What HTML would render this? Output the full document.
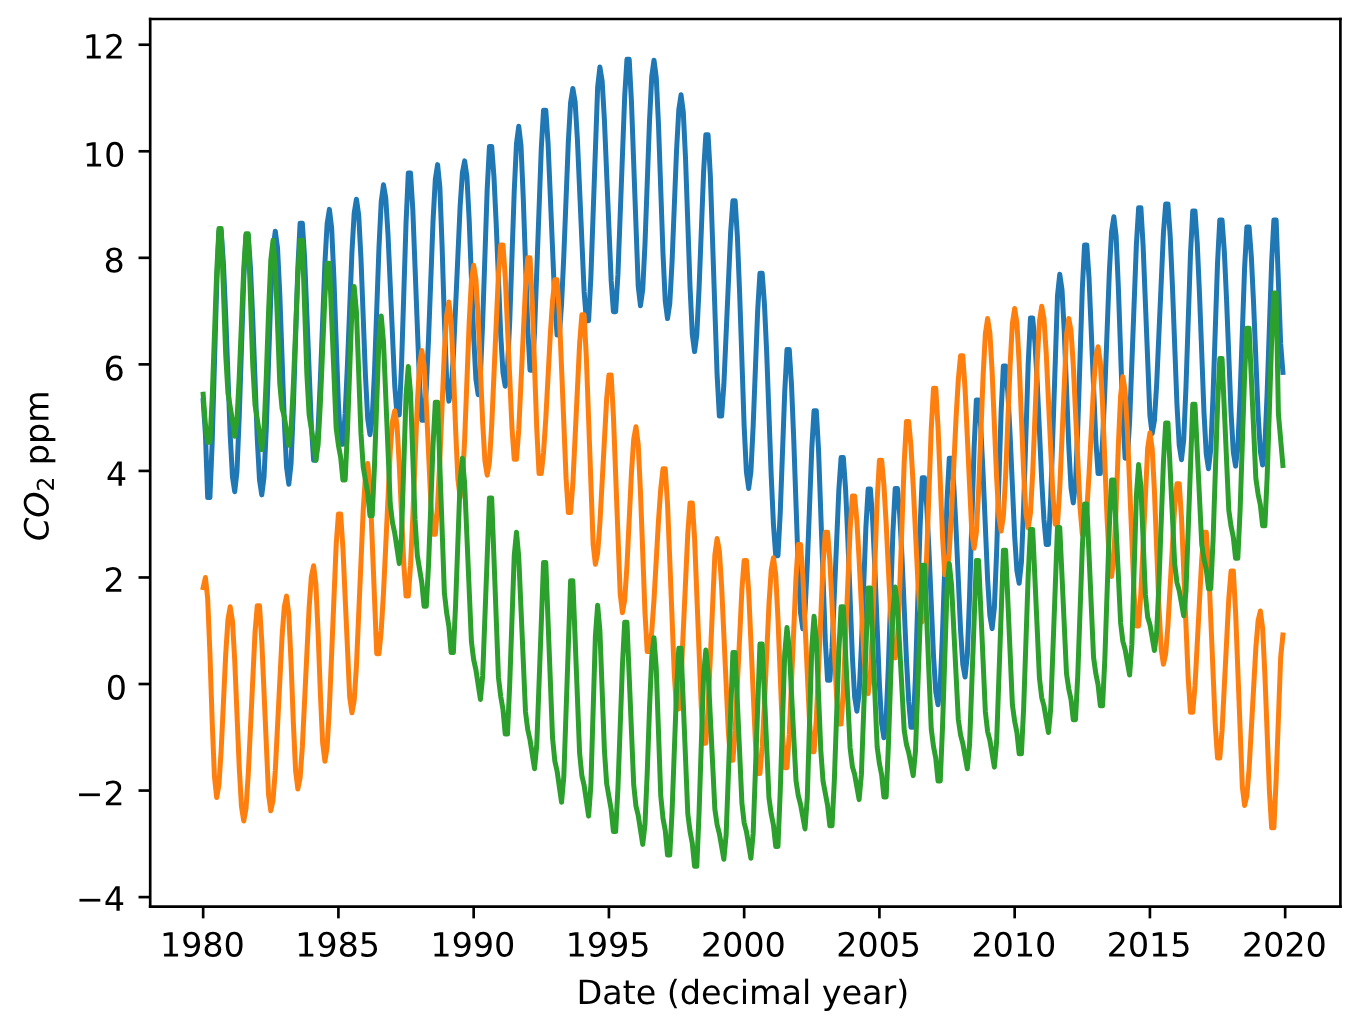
<!DOCTYPE html>
<html><head><meta charset="utf-8"><title>CO2 chart</title><style>html,body{margin:0;padding:0;background:#fff;overflow:hidden;font-family:"Liberation Sans",sans-serif}svg{display:block}</style></head><body>
<svg width="1352" height="1030" viewBox="0 0 405.6 309">
<defs>
<style type="text/css">*{stroke-linejoin: round; stroke-linecap: butt}</style>
</defs>
<g id="figure_1">
<g id="patch_1">
<path d="M 0 309 L 405.6 309 L 405.6 0 L 0 0 z
" style="fill: #ffffff"/>
</g>
<g id="axes_1">
<g id="patch_2">
<path d="M 45.06 272.01 L 402.12 272.01 L 402.12 5.7 L 45.06 5.7 z
" style="fill: #ffffff"/>
</g>
<g id="matplotlib.axis_1">
<g id="xtick_1">
<g id="line2d_1">
<defs>
<path id="m1504cfccaf" d="M 0 0 L 0 3.5 " style="stroke: #000000; stroke-width: 0.8"/>
</defs>
<g>
<use href="#m1504cfccaf" x="60.94917" y="272.01" style="stroke: #000000; stroke-width: 0.8"/>
</g>
</g>
<g id="text_1" transform="translate(-0.240 0.330)">
<!-- 1980 -->
<g transform="translate(48.22417 286.608438) scale(0.1 -0.1)">
<defs>
<path id="DejaVuSans-31" d="M 794 531 L 1825 531 L 1825 4091 L 703 3866 L 703 4441 L 1819 4666 L 2450 4666 L 2450 531 L 3481 531 L 3481 0 L 794 0 L 794 531 z
" transform="scale(0.015625)"/>
<path id="DejaVuSans-39" d="M 703 97 L 703 672 Q 941 559 1184 500 Q 1428 441 1663 441 Q 2288 441 2617 861 Q 2947 1281 2994 2138 Q 2813 1869 2534 1725 Q 2256 1581 1919 1581 Q 1219 1581 811 2004 Q 403 2428 403 3163 Q 403 3881 828 4315 Q 1253 4750 1959 4750 Q 2769 4750 3195 4129 Q 3622 3509 3622 2328 Q 3622 1225 3098 567 Q 2575 -91 1691 -91 Q 1453 -91 1209 -44 Q 966 3 703 97 z
M 1959 2075 Q 2384 2075 2632 2365 Q 2881 2656 2881 3163 Q 2881 3666 2632 3958 Q 2384 4250 1959 4250 Q 1534 4250 1286 3958 Q 1038 3666 1038 3163 Q 1038 2656 1286 2365 Q 1534 2075 1959 2075 z
" transform="scale(0.015625)"/>
<path id="DejaVuSans-38" d="M 2034 2216 Q 1584 2216 1326 1975 Q 1069 1734 1069 1313 Q 1069 891 1326 650 Q 1584 409 2034 409 Q 2484 409 2743 651 Q 3003 894 3003 1313 Q 3003 1734 2745 1975 Q 2488 2216 2034 2216 z
M 1403 2484 Q 997 2584 770 2862 Q 544 3141 544 3541 Q 544 4100 942 4425 Q 1341 4750 2034 4750 Q 2731 4750 3128 4425 Q 3525 4100 3525 3541 Q 3525 3141 3298 2862 Q 3072 2584 2669 2484 Q 3125 2378 3379 2068 Q 3634 1759 3634 1313 Q 3634 634 3220 271 Q 2806 -91 2034 -91 Q 1263 -91 848 271 Q 434 634 434 1313 Q 434 1759 690 2068 Q 947 2378 1403 2484 z
M 1172 3481 Q 1172 3119 1398 2916 Q 1625 2713 2034 2713 Q 2441 2713 2670 2916 Q 2900 3119 2900 3481 Q 2900 3844 2670 4047 Q 2441 4250 2034 4250 Q 1625 4250 1398 4047 Q 1172 3844 1172 3481 z
" transform="scale(0.015625)"/>
<path id="DejaVuSans-30" d="M 2034 4250 Q 1547 4250 1301 3770 Q 1056 3291 1056 2328 Q 1056 1369 1301 889 Q 1547 409 2034 409 Q 2525 409 2770 889 Q 3016 1369 3016 2328 Q 3016 3291 2770 3770 Q 2525 4250 2034 4250 z
M 2034 4750 Q 2819 4750 3233 4129 Q 3647 3509 3647 2328 Q 3647 1150 3233 529 Q 2819 -91 2034 -91 Q 1250 -91 836 529 Q 422 1150 422 2328 Q 422 3509 836 4129 Q 1250 4750 2034 4750 z
" transform="scale(0.015625)"/>
</defs>
<use href="#DejaVuSans-31"/>
<use href="#DejaVuSans-39" transform="translate(63.623047 0)"/>
<use href="#DejaVuSans-38" transform="translate(127.246094 0)"/>
<use href="#DejaVuSans-30" transform="translate(190.869141 0)"/>
</g>
</g>
</g>
<g id="xtick_2">
<g id="line2d_2">
<g>
<use href="#m1504cfccaf" x="101.52417" y="272.01" style="stroke: #000000; stroke-width: 0.8"/>
</g>
</g>
<g id="text_2" transform="translate(-0.240 0.330)">
<!-- 1985 -->
<g transform="translate(88.79917 286.608438) scale(0.1 -0.1)">
<defs>
<path id="DejaVuSans-35" d="M 691 4666 L 3169 4666 L 3169 4134 L 1269 4134 L 1269 2991 Q 1406 3038 1543 3061 Q 1681 3084 1819 3084 Q 2600 3084 3056 2656 Q 3513 2228 3513 1497 Q 3513 744 3044 326 Q 2575 -91 1722 -91 Q 1428 -91 1123 -41 Q 819 9 494 109 L 494 744 Q 775 591 1075 516 Q 1375 441 1709 441 Q 2250 441 2565 725 Q 2881 1009 2881 1497 Q 2881 1984 2565 2268 Q 2250 2553 1709 2553 Q 1456 2553 1204 2497 Q 953 2441 691 2322 L 691 4666 z
" transform="scale(0.015625)"/>
</defs>
<use href="#DejaVuSans-31"/>
<use href="#DejaVuSans-39" transform="translate(63.623047 0)"/>
<use href="#DejaVuSans-38" transform="translate(127.246094 0)"/>
<use href="#DejaVuSans-35" transform="translate(190.869141 0)"/>
</g>
</g>
</g>
<g id="xtick_3">
<g id="line2d_3">
<g>
<use href="#m1504cfccaf" x="142.09917" y="272.01" style="stroke: #000000; stroke-width: 0.8"/>
</g>
</g>
<g id="text_3" transform="translate(-0.240 0.330)">
<!-- 1990 -->
<g transform="translate(129.37417 286.608438) scale(0.1 -0.1)">
<use href="#DejaVuSans-31"/>
<use href="#DejaVuSans-39" transform="translate(63.623047 0)"/>
<use href="#DejaVuSans-39" transform="translate(127.246094 0)"/>
<use href="#DejaVuSans-30" transform="translate(190.869141 0)"/>
</g>
</g>
</g>
<g id="xtick_4">
<g id="line2d_4">
<g>
<use href="#m1504cfccaf" x="182.67417" y="272.01" style="stroke: #000000; stroke-width: 0.8"/>
</g>
</g>
<g id="text_4" transform="translate(-0.240 0.330)">
<!-- 1995 -->
<g transform="translate(169.94917 286.608438) scale(0.1 -0.1)">
<use href="#DejaVuSans-31"/>
<use href="#DejaVuSans-39" transform="translate(63.623047 0)"/>
<use href="#DejaVuSans-39" transform="translate(127.246094 0)"/>
<use href="#DejaVuSans-35" transform="translate(190.869141 0)"/>
</g>
</g>
</g>
<g id="xtick_5">
<g id="line2d_5">
<g>
<use href="#m1504cfccaf" x="223.24917" y="272.01" style="stroke: #000000; stroke-width: 0.8"/>
</g>
</g>
<g id="text_5" transform="translate(-0.240 0.330)">
<!-- 2000 -->
<g transform="translate(210.52417 286.608438) scale(0.1 -0.1)">
<defs>
<path id="DejaVuSans-32" d="M 1228 531 L 3431 531 L 3431 0 L 469 0 L 469 531 Q 828 903 1448 1529 Q 2069 2156 2228 2338 Q 2531 2678 2651 2914 Q 2772 3150 2772 3378 Q 2772 3750 2511 3984 Q 2250 4219 1831 4219 Q 1534 4219 1204 4116 Q 875 4013 500 3803 L 500 4441 Q 881 4594 1212 4672 Q 1544 4750 1819 4750 Q 2544 4750 2975 4387 Q 3406 4025 3406 3419 Q 3406 3131 3298 2873 Q 3191 2616 2906 2266 Q 2828 2175 2409 1742 Q 1991 1309 1228 531 z
" transform="scale(0.015625)"/>
</defs>
<use href="#DejaVuSans-32"/>
<use href="#DejaVuSans-30" transform="translate(63.623047 0)"/>
<use href="#DejaVuSans-30" transform="translate(127.246094 0)"/>
<use href="#DejaVuSans-30" transform="translate(190.869141 0)"/>
</g>
</g>
</g>
<g id="xtick_6">
<g id="line2d_6">
<g>
<use href="#m1504cfccaf" x="263.82417" y="272.01" style="stroke: #000000; stroke-width: 0.8"/>
</g>
</g>
<g id="text_6" transform="translate(-0.240 0.330)">
<!-- 2005 -->
<g transform="translate(251.09917 286.608438) scale(0.1 -0.1)">
<use href="#DejaVuSans-32"/>
<use href="#DejaVuSans-30" transform="translate(63.623047 0)"/>
<use href="#DejaVuSans-30" transform="translate(127.246094 0)"/>
<use href="#DejaVuSans-35" transform="translate(190.869141 0)"/>
</g>
</g>
</g>
<g id="xtick_7">
<g id="line2d_7">
<g>
<use href="#m1504cfccaf" x="304.39917" y="272.01" style="stroke: #000000; stroke-width: 0.8"/>
</g>
</g>
<g id="text_7" transform="translate(-0.240 0.330)">
<!-- 2010 -->
<g transform="translate(291.67417 286.608438) scale(0.1 -0.1)">
<use href="#DejaVuSans-32"/>
<use href="#DejaVuSans-30" transform="translate(63.623047 0)"/>
<use href="#DejaVuSans-31" transform="translate(127.246094 0)"/>
<use href="#DejaVuSans-30" transform="translate(190.869141 0)"/>
</g>
</g>
</g>
<g id="xtick_8">
<g id="line2d_8">
<g>
<use href="#m1504cfccaf" x="344.97417" y="272.01" style="stroke: #000000; stroke-width: 0.8"/>
</g>
</g>
<g id="text_8" transform="translate(-0.240 0.330)">
<!-- 2015 -->
<g transform="translate(332.24917 286.608438) scale(0.1 -0.1)">
<use href="#DejaVuSans-32"/>
<use href="#DejaVuSans-30" transform="translate(63.623047 0)"/>
<use href="#DejaVuSans-31" transform="translate(127.246094 0)"/>
<use href="#DejaVuSans-35" transform="translate(190.869141 0)"/>
</g>
</g>
</g>
<g id="xtick_9">
<g id="line2d_9">
<g>
<use href="#m1504cfccaf" x="385.54917" y="272.01" style="stroke: #000000; stroke-width: 0.8"/>
</g>
</g>
<g id="text_9" transform="translate(-0.240 0.330)">
<!-- 2020 -->
<g transform="translate(372.82417 286.608438) scale(0.1 -0.1)">
<use href="#DejaVuSans-32"/>
<use href="#DejaVuSans-30" transform="translate(63.623047 0)"/>
<use href="#DejaVuSans-32" transform="translate(127.246094 0)"/>
<use href="#DejaVuSans-30" transform="translate(190.869141 0)"/>
</g>
</g>
</g>
<g id="text_10" transform="translate(-0.720 0.900)">
<!-- Date (decimal year) -->
<g transform="translate(173.691563 300.286563) scale(0.1 -0.1)">
<defs>
<path id="DejaVuSans-44" d="M 1259 4147 L 1259 519 L 2022 519 Q 2988 519 3436 956 Q 3884 1394 3884 2338 Q 3884 3275 3436 3711 Q 2988 4147 2022 4147 L 1259 4147 z
M 628 4666 L 1925 4666 Q 3281 4666 3915 4102 Q 4550 3538 4550 2338 Q 4550 1131 3912 565 Q 3275 0 1925 0 L 628 0 L 628 4666 z
" transform="scale(0.015625)"/>
<path id="DejaVuSans-61" d="M 2194 1759 Q 1497 1759 1228 1600 Q 959 1441 959 1056 Q 959 750 1161 570 Q 1363 391 1709 391 Q 2188 391 2477 730 Q 2766 1069 2766 1631 L 2766 1759 L 2194 1759 z
M 3341 1997 L 3341 0 L 2766 0 L 2766 531 Q 2569 213 2275 61 Q 1981 -91 1556 -91 Q 1019 -91 701 211 Q 384 513 384 1019 Q 384 1609 779 1909 Q 1175 2209 1959 2209 L 2766 2209 L 2766 2266 Q 2766 2663 2505 2880 Q 2244 3097 1772 3097 Q 1472 3097 1187 3025 Q 903 2953 641 2809 L 641 3341 Q 956 3463 1253 3523 Q 1550 3584 1831 3584 Q 2591 3584 2966 3190 Q 3341 2797 3341 1997 z
" transform="scale(0.015625)"/>
<path id="DejaVuSans-74" d="M 1172 4494 L 1172 3500 L 2356 3500 L 2356 3053 L 1172 3053 L 1172 1153 Q 1172 725 1289 603 Q 1406 481 1766 481 L 2356 481 L 2356 0 L 1766 0 Q 1100 0 847 248 Q 594 497 594 1153 L 594 3053 L 172 3053 L 172 3500 L 594 3500 L 594 4494 L 1172 4494 z
" transform="scale(0.015625)"/>
<path id="DejaVuSans-65" d="M 3597 1894 L 3597 1613 L 953 1613 Q 991 1019 1311 708 Q 1631 397 2203 397 Q 2534 397 2845 478 Q 3156 559 3463 722 L 3463 178 Q 3153 47 2828 -22 Q 2503 -91 2169 -91 Q 1331 -91 842 396 Q 353 884 353 1716 Q 353 2575 817 3079 Q 1281 3584 2069 3584 Q 2775 3584 3186 3129 Q 3597 2675 3597 1894 z
M 3022 2063 Q 3016 2534 2758 2815 Q 2500 3097 2075 3097 Q 1594 3097 1305 2825 Q 1016 2553 972 2059 L 3022 2063 z
" transform="scale(0.015625)"/>
<path id="DejaVuSans-20" transform="scale(0.015625)"/>
<path id="DejaVuSans-28" d="M 1984 4856 Q 1566 4138 1362 3434 Q 1159 2731 1159 2009 Q 1159 1288 1364 580 Q 1569 -128 1984 -844 L 1484 -844 Q 1016 -109 783 600 Q 550 1309 550 2009 Q 550 2706 781 3412 Q 1013 4119 1484 4856 L 1984 4856 z
" transform="scale(0.015625)"/>
<path id="DejaVuSans-64" d="M 2906 2969 L 2906 4863 L 3481 4863 L 3481 0 L 2906 0 L 2906 525 Q 2725 213 2448 61 Q 2172 -91 1784 -91 Q 1150 -91 751 415 Q 353 922 353 1747 Q 353 2572 751 3078 Q 1150 3584 1784 3584 Q 2172 3584 2448 3432 Q 2725 3281 2906 2969 z
M 947 1747 Q 947 1113 1208 752 Q 1469 391 1925 391 Q 2381 391 2643 752 Q 2906 1113 2906 1747 Q 2906 2381 2643 2742 Q 2381 3103 1925 3103 Q 1469 3103 1208 2742 Q 947 2381 947 1747 z
" transform="scale(0.015625)"/>
<path id="DejaVuSans-63" d="M 3122 3366 L 3122 2828 Q 2878 2963 2633 3030 Q 2388 3097 2138 3097 Q 1578 3097 1268 2742 Q 959 2388 959 1747 Q 959 1106 1268 751 Q 1578 397 2138 397 Q 2388 397 2633 464 Q 2878 531 3122 666 L 3122 134 Q 2881 22 2623 -34 Q 2366 -91 2075 -91 Q 1284 -91 818 406 Q 353 903 353 1747 Q 353 2603 823 3093 Q 1294 3584 2113 3584 Q 2378 3584 2631 3529 Q 2884 3475 3122 3366 z
" transform="scale(0.015625)"/>
<path id="DejaVuSans-69" d="M 603 3500 L 1178 3500 L 1178 0 L 603 0 L 603 3500 z
M 603 4863 L 1178 4863 L 1178 4134 L 603 4134 L 603 4863 z
" transform="scale(0.015625)"/>
<path id="DejaVuSans-6d" d="M 3328 2828 Q 3544 3216 3844 3400 Q 4144 3584 4550 3584 Q 5097 3584 5394 3201 Q 5691 2819 5691 2113 L 5691 0 L 5113 0 L 5113 2094 Q 5113 2597 4934 2840 Q 4756 3084 4391 3084 Q 3944 3084 3684 2787 Q 3425 2491 3425 1978 L 3425 0 L 2847 0 L 2847 2094 Q 2847 2600 2669 2842 Q 2491 3084 2119 3084 Q 1678 3084 1418 2786 Q 1159 2488 1159 1978 L 1159 0 L 581 0 L 581 3500 L 1159 3500 L 1159 2956 Q 1356 3278 1631 3431 Q 1906 3584 2284 3584 Q 2666 3584 2933 3390 Q 3200 3197 3328 2828 z
" transform="scale(0.015625)"/>
<path id="DejaVuSans-6c" d="M 603 4863 L 1178 4863 L 1178 0 L 603 0 L 603 4863 z
" transform="scale(0.015625)"/>
<path id="DejaVuSans-79" d="M 2059 -325 Q 1816 -950 1584 -1140 Q 1353 -1331 966 -1331 L 506 -1331 L 506 -850 L 844 -850 Q 1081 -850 1212 -737 Q 1344 -625 1503 -206 L 1606 56 L 191 3500 L 800 3500 L 1894 763 L 2988 3500 L 3597 3500 L 2059 -325 z
" transform="scale(0.015625)"/>
<path id="DejaVuSans-72" d="M 2631 2963 Q 2534 3019 2420 3045 Q 2306 3072 2169 3072 Q 1681 3072 1420 2755 Q 1159 2438 1159 1844 L 1159 0 L 581 0 L 581 3500 L 1159 3500 L 1159 2956 Q 1341 3275 1631 3429 Q 1922 3584 2338 3584 Q 2397 3584 2469 3576 Q 2541 3569 2628 3553 L 2631 2963 z
" transform="scale(0.015625)"/>
<path id="DejaVuSans-29" d="M 513 4856 L 1013 4856 Q 1481 4119 1714 3412 Q 1947 2706 1947 2009 Q 1947 1309 1714 600 Q 1481 -109 1013 -844 L 513 -844 Q 928 -128 1133 580 Q 1338 1288 1338 2009 Q 1338 2731 1133 3434 Q 928 4138 513 4856 z
" transform="scale(0.015625)"/>
</defs>
<use href="#DejaVuSans-44"/>
<use href="#DejaVuSans-61" transform="translate(77.001953 0)"/>
<use href="#DejaVuSans-74" transform="translate(138.28125 0)"/>
<use href="#DejaVuSans-65" transform="translate(177.490234 0)"/>
<use href="#DejaVuSans-20" transform="translate(239.013672 0)"/>
<use href="#DejaVuSans-28" transform="translate(270.800781 0)"/>
<use href="#DejaVuSans-64" transform="translate(309.814453 0)"/>
<use href="#DejaVuSans-65" transform="translate(373.291016 0)"/>
<use href="#DejaVuSans-63" transform="translate(434.814453 0)"/>
<use href="#DejaVuSans-69" transform="translate(489.794922 0)"/>
<use href="#DejaVuSans-6d" transform="translate(517.578125 0)"/>
<use href="#DejaVuSans-61" transform="translate(614.990234 0)"/>
<use href="#DejaVuSans-6c" transform="translate(676.269531 0)"/>
<use href="#DejaVuSans-20" transform="translate(704.052734 0)"/>
<use href="#DejaVuSans-79" transform="translate(735.839844 0)"/>
<use href="#DejaVuSans-65" transform="translate(795.019531 0)"/>
<use href="#DejaVuSans-61" transform="translate(856.542969 0)"/>
<use href="#DejaVuSans-72" transform="translate(917.822266 0)"/>
<use href="#DejaVuSans-29" transform="translate(958.935547 0)"/>
</g>
</g>
</g>
<g id="matplotlib.axis_2">
<g id="ytick_1">
<g id="line2d_10">
<defs>
<path id="m5d545ce8f8" d="M 0 0 L -3.5 0 " style="stroke: #000000; stroke-width: 0.8"/>
</defs>
<g>
<use href="#m5d545ce8f8" x="45.06" y="269.133219" style="stroke: #000000; stroke-width: 0.8"/>
</g>
</g>
<g id="text_11" transform="translate(-0.540 0.270)">
<!-- −4 -->
<g transform="translate(23.317813 272.932438) scale(0.1 -0.1)">
<defs>
<path id="DejaVuSans-2212" d="M 678 2272 L 4684 2272 L 4684 1741 L 678 1741 L 678 2272 z
" transform="scale(0.015625)"/>
<path id="DejaVuSans-34" d="M 2419 4116 L 825 1625 L 2419 1625 L 2419 4116 z
M 2253 4666 L 3047 4666 L 3047 1625 L 3713 1625 L 3713 1100 L 3047 1100 L 3047 0 L 2419 0 L 2419 1100 L 313 1100 L 313 1709 L 2253 4666 z
" transform="scale(0.015625)"/>
</defs>
<use href="#DejaVuSans-2212"/>
<use href="#DejaVuSans-34" transform="translate(83.789062 0)"/>
</g>
</g>
</g>
<g id="ytick_2">
<g id="line2d_11">
<g>
<use href="#m5d545ce8f8" x="45.06" y="237.168987" style="stroke: #000000; stroke-width: 0.8"/>
</g>
</g>
<g id="text_12" transform="translate(-0.660 0.600)">
<!-- −2 -->
<g transform="translate(23.317813 240.968206) scale(0.1 -0.1)">
<use href="#DejaVuSans-2212"/>
<use href="#DejaVuSans-32" transform="translate(83.789062 0)"/>
</g>
</g>
</g>
<g id="ytick_3">
<g id="line2d_12">
<g>
<use href="#m5d545ce8f8" x="45.06" y="205.204755" style="stroke: #000000; stroke-width: 0.8"/>
</g>
</g>
<g id="text_13" transform="translate(0.030 0.840)">
<!-- 0 -->
<g transform="translate(31.6975 209.003974) scale(0.1 -0.1)">
<use href="#DejaVuSans-30"/>
</g>
</g>
</g>
<g id="ytick_4">
<g id="line2d_13">
<g>
<use href="#m5d545ce8f8" x="45.06" y="173.240523" style="stroke: #000000; stroke-width: 0.8"/>
</g>
</g>
<g id="text_14" transform="translate(-0.660 0.510)">
<!-- 2 -->
<g transform="translate(31.6975 177.039741) scale(0.1 -0.1)">
<use href="#DejaVuSans-32"/>
</g>
</g>
</g>
<g id="ytick_5">
<g id="line2d_14">
<g>
<use href="#m5d545ce8f8" x="45.06" y="141.276291" style="stroke: #000000; stroke-width: 0.8"/>
</g>
</g>
<g id="text_15" transform="translate(0.090 0.660)">
<!-- 4 -->
<g transform="translate(31.6975 145.075509) scale(0.1 -0.1)">
<use href="#DejaVuSans-34"/>
</g>
</g>
</g>
<g id="ytick_6">
<g id="line2d_15">
<g>
<use href="#m5d545ce8f8" x="45.06" y="109.312058" style="stroke: #000000; stroke-width: 0.8"/>
</g>
</g>
<g id="text_16" transform="translate(-0.630 0.960)">
<!-- 6 -->
<g transform="translate(31.6975 113.111277) scale(0.1 -0.1)">
<defs>
<path id="DejaVuSans-36" d="M 2113 2584 Q 1688 2584 1439 2293 Q 1191 2003 1191 1497 Q 1191 994 1439 701 Q 1688 409 2113 409 Q 2538 409 2786 701 Q 3034 994 3034 1497 Q 3034 2003 2786 2293 Q 2538 2584 2113 2584 z
M 3366 4563 L 3366 3988 Q 3128 4100 2886 4159 Q 2644 4219 2406 4219 Q 1781 4219 1451 3797 Q 1122 3375 1075 2522 Q 1259 2794 1537 2939 Q 1816 3084 2150 3084 Q 2853 3084 3261 2657 Q 3669 2231 3669 1497 Q 3669 778 3244 343 Q 2819 -91 2113 -91 Q 1303 -91 875 529 Q 447 1150 447 2328 Q 447 3434 972 4092 Q 1497 4750 2381 4750 Q 2619 4750 2861 4703 Q 3103 4656 3366 4563 z
" transform="scale(0.015625)"/>
</defs>
<use href="#DejaVuSans-36"/>
</g>
</g>
</g>
<g id="ytick_7">
<g id="line2d_16">
<g>
<use href="#m5d545ce8f8" x="45.06" y="77.347826" style="stroke: #000000; stroke-width: 0.8"/>
</g>
</g>
<g id="text_17" transform="translate(-0.630 0.510)">
<!-- 8 -->
<g transform="translate(31.6975 81.147045) scale(0.1 -0.1)">
<use href="#DejaVuSans-38"/>
</g>
</g>
</g>
<g id="ytick_8">
<g id="line2d_17">
<g>
<use href="#m5d545ce8f8" x="45.06" y="45.383594" style="stroke: #000000; stroke-width: 0.8"/>
</g>
</g>
<g id="text_18" transform="translate(-0.450 0.780)">
<!-- 10 -->
<g transform="translate(25.335 49.182813) scale(0.1 -0.1)">
<use href="#DejaVuSans-31"/>
<use href="#DejaVuSans-30" transform="translate(63.623047 0)"/>
</g>
</g>
</g>
<g id="ytick_9">
<g id="line2d_18">
<g>
<use href="#m5d545ce8f8" x="45.06" y="13.419362" style="stroke: #000000; stroke-width: 0.8"/>
</g>
</g>
<g id="text_19" transform="translate(-0.540 0.360)">
<!-- 12 -->
<g transform="translate(25.335 17.218581) scale(0.1 -0.1)">
<use href="#DejaVuSans-31"/>
<use href="#DejaVuSans-32" transform="translate(63.623047 0)"/>
</g>
</g>
</g>
<g id="text_20" transform="translate(-2.610 0.855)">
<!-- $CO_2$ ppm -->
<g transform="translate(17.217813 161.455) rotate(-90) scale(0.1 -0.1)">
<defs>
<path id="DejaVuSans-Oblique-43" d="M 4447 4306 L 4319 3641 Q 4019 3944 3683 4091 Q 3347 4238 2956 4238 Q 2422 4238 2017 3981 Q 1613 3725 1319 3200 Q 1131 2863 1032 2486 Q 934 2109 934 1728 Q 934 1091 1264 756 Q 1594 422 2222 422 Q 2656 422 3056 561 Q 3456 700 3834 978 L 3688 231 Q 3316 72 2936 -9 Q 2556 -91 2175 -91 Q 1278 -91 773 396 Q 269 884 269 1753 Q 269 2309 461 2846 Q 653 3384 1013 3828 Q 1394 4300 1883 4525 Q 2372 4750 3022 4750 Q 3422 4750 3780 4639 Q 4138 4528 4447 4306 z
" transform="scale(0.015625)"/>
<path id="DejaVuSans-Oblique-4f" d="M 2919 4238 Q 2400 4238 2003 3986 Q 1606 3734 1313 3219 Q 1125 2891 1026 2522 Q 928 2153 928 1778 Q 928 1128 1239 775 Q 1550 422 2119 422 Q 2631 422 3032 676 Q 3434 931 3719 1434 Q 3909 1772 4009 2142 Q 4109 2513 4109 2881 Q 4109 3528 3796 3883 Q 3484 4238 2919 4238 z
M 2100 -91 Q 1241 -91 748 418 Q 256 928 256 1813 Q 256 2319 448 2847 Q 641 3375 978 3788 Q 1375 4272 1862 4511 Q 2350 4750 2938 4750 Q 3794 4750 4287 4245 Q 4781 3741 4781 2869 Q 4781 2331 4593 1812 Q 4406 1294 4056 872 Q 3656 384 3173 146 Q 2691 -91 2100 -91 z
" transform="scale(0.015625)"/>
<path id="DejaVuSans-70" d="M 1159 525 L 1159 -1331 L 581 -1331 L 581 3500 L 1159 3500 L 1159 2969 Q 1341 3281 1617 3432 Q 1894 3584 2278 3584 Q 2916 3584 3314 3078 Q 3713 2572 3713 1747 Q 3713 922 3314 415 Q 2916 -91 2278 -91 Q 1894 -91 1617 61 Q 1341 213 1159 525 z
M 3116 1747 Q 3116 2381 2855 2742 Q 2594 3103 2138 3103 Q 1681 3103 1420 2742 Q 1159 2381 1159 1747 Q 1159 1113 1420 752 Q 1681 391 2138 391 Q 2594 391 2855 752 Q 3116 1113 3116 1747 z
" transform="scale(0.015625)"/>
</defs>
<use href="#DejaVuSans-Oblique-43" transform="translate(0 0.78125)"/>
<use href="#DejaVuSans-Oblique-4f" transform="translate(69.824219 0.78125)"/>
<use href="#DejaVuSans-32" transform="translate(148.535156 -15.625) scale(0.7)"/>
<use href="#DejaVuSans-20" transform="translate(195.805664 0.78125)"/>
<use href="#DejaVuSans-70" transform="translate(227.592773 0.78125)"/>
<use href="#DejaVuSans-70" transform="translate(291.069336 0.78125)"/>
<use href="#DejaVuSans-6d" transform="translate(354.545898 0.78125)"/>
</g>
</g>
</g>
<g id="line2d_19">
<path d="M 60.94917 120.179897 L 61.62542 130.229365 L 62.30167 149.267349 L 62.97792 149.267349 L 63.65417 132.797189 L 65.00667 85.826928 L 65.68292 69.356768 L 66.35917 69.356768 L 67.03542 79.184031 L 67.71167 94.576404 L 69.06417 130.630896 L 69.74042 143.033364 L 70.41667 147.509316 L 71.09292 141.40758 L 71.76917 125.039629 L 73.12167 83.901452 L 73.79792 70.635338 L 74.47417 70.635338 L 75.15042 80.422407 L 75.82667 95.751826 L 77.17917 131.658855 L 77.85542 144.010598 L 78.53167 148.468243 L 79.20792 143.168779 L 79.88417 128.690374 L 81.23667 89.134637 L 81.91292 74.656232 L 82.58917 69.356768 L 83.26542 74.442112 L 83.94167 88.335531 L 85.29417 126.293057 L 85.97042 140.186475 L 86.64667 145.27182 L 87.32292 139.055914 L 87.99917 122.381702 L 89.35167 80.473788 L 90.02792 66.959451 L 90.70417 66.959451 L 91.38042 77.374795 L 93.40917 127.664524 L 94.08542 138.079867 L 94.76167 138.079867 L 95.43792 128.614344 L 96.11417 113.788561 L 97.46667 79.061229 L 98.14292 67.115293 L 98.81917 62.804101 L 99.49542 68.398416 L 100.17167 83.405206 L 101.52417 121.122329 L 102.20042 133.285233 L 102.87667 133.285233 L 103.55292 124.040773 L 104.22917 109.561239 L 105.58167 75.644949 L 106.25792 63.978005 L 106.93417 59.767499 L 107.61042 64.499545 L 108.28667 77.427737 L 109.63917 112.748213 L 110.31542 125.676405 L 110.99167 130.408452 L 111.66792 125.387343 L 112.34417 111.669421 L 113.69667 74.191358 L 114.37292 60.473436 L 115.04917 55.452327 L 115.72542 59.406542 L 116.40167 70.363324 L 118.43042 115.813315 L 119.10667 124.495069 L 119.78292 124.495069 L 120.45917 109.540164 L 121.81167 66.891167 L 122.48792 51.936262 L 123.16417 51.936262 L 123.84042 62.796306 L 125.86917 115.233236 L 126.54542 126.09328 L 127.22167 126.09328 L 127.89792 116.446887 L 128.57417 101.337809 L 129.92667 65.946898 L 130.60292 53.772695 L 131.27917 49.379123 L 131.95542 56.155257 L 132.63167 73.895406 L 133.30792 95.823436 L 133.98417 113.563585 L 134.66042 120.339719 L 135.33667 116.770669 L 136.01292 106.770415 L 138.04167 61.829679 L 138.71792 51.829425 L 139.39417 48.260375 L 140.07042 52.960304 L 140.74667 65.800747 L 142.09917 100.881492 L 142.77542 113.721936 L 143.45167 118.421865 L 144.12792 112.510411 L 144.80417 96.652896 L 146.15667 56.797614 L 146.83292 43.945204 L 147.50917 43.945204 L 148.18542 52.988697 L 148.86167 67.153458 L 150.21417 100.332438 L 150.89042 111.745752 L 151.56667 115.864726 L 152.24292 110.640204 L 152.91917 96.366544 L 154.27167 57.370181 L 154.94792 43.096522 L 155.62417 37.872 L 156.30042 43.681969 L 156.97667 59.267252 L 158.32917 98.438323 L 159.00542 111.070091 L 159.68167 111.070091 L 160.35792 99.648321 L 162.38667 44.499135 L 163.06292 33.077365 L 163.73917 33.077365 L 164.41542 42.954388 L 166.44417 90.644872 L 167.12042 100.521895 L 167.79667 100.521895 L 168.47292 91.217145 L 169.14917 76.64318 L 170.50167 42.505696 L 171.17792 30.762664 L 171.85417 26.524697 L 172.53042 30.515525 L 173.20667 41.573759 L 175.23542 87.444583 L 175.91167 96.206723 L 176.58792 96.206723 L 177.26417 83.07851 L 179.29292 26.170159 L 179.96917 20.131851 L 180.64542 24.333204 L 181.32167 35.974785 L 183.35042 84.2654 L 184.02667 93.489764 L 184.70292 93.489764 L 185.37917 82.405029 L 187.40792 28.883196 L 188.08417 17.798462 L 188.76042 17.798462 L 189.43667 30.557099 L 191.46542 85.863408 L 192.14167 91.731731 L 192.81792 86.79627 L 193.49417 73.312342 L 194.84667 36.473564 L 195.52292 22.989636 L 196.19917 18.054176 L 196.87542 23.24658 L 197.55167 37.432491 L 198.90417 76.189123 L 199.58042 90.375035 L 200.25667 95.567439 L 200.93292 91.070924 L 201.60917 78.786217 L 202.96167 45.223773 L 203.63792 32.939066 L 204.31417 28.442551 L 204.99042 33.602837 L 205.66667 47.701001 L 207.01917 86.217901 L 207.69542 100.316065 L 208.37167 105.476351 L 209.04792 100.313343 L 209.72417 86.463539 L 211.07667 51.654312 L 211.75292 40.429138 L 212.42917 40.429138 L 213.10542 52.787119 L 215.13417 112.45673 L 215.81042 124.814711 L 216.48667 124.814711 L 217.16292 115.358983 L 219.19167 69.70269 L 219.86792 60.246962 L 220.54417 60.246962 L 221.22042 71.099154 L 221.89667 88.096867 L 223.24917 127.911643 L 223.92542 141.60762 L 224.60167 146.550389 L 225.27792 141.425438 L 225.95417 127.677721 L 227.30667 93.125073 L 227.98292 81.98264 L 228.65917 81.98264 L 229.33542 91.222646 L 230.01167 105.95914 L 231.36417 142.711355 L 232.04042 157.44785 L 232.71667 166.687855 L 233.39292 166.687855 L 234.06917 153.939951 L 235.42167 117.58497 L 236.09792 104.837066 L 236.77417 104.837066 L 237.45042 115.367712 L 238.12667 131.861789 L 239.47917 170.496867 L 240.15542 183.787038 L 240.83167 188.583354 L 241.50792 183.394976 L 242.18417 169.477113 L 243.53667 134.496834 L 244.21292 123.216499 L 244.88917 123.216499 L 245.56542 135.059565 L 247.59417 192.242942 L 248.27042 204.086007 L 248.94667 204.086007 L 249.62292 194.302605 L 251.65167 147.064163 L 252.32792 137.280762 L 253.00417 137.280762 L 253.68042 146.846768 L 254.35667 161.829937 L 255.70917 196.925924 L 256.38542 208.998675 L 257.06167 213.355634 L 257.73792 208.065771 L 258.41417 193.875677 L 259.76667 158.211186 L 260.44292 146.71021 L 261.11917 146.71021 L 261.79542 156.095347 L 262.47167 170.79522 L 263.82417 205.227628 L 264.50042 217.072112 L 265.17667 221.346692 L 265.85292 215.409868 L 266.52917 199.484294 L 267.88167 159.457959 L 268.55792 146.550389 L 269.23417 146.550389 L 269.91042 154.360809 L 270.58667 166.817317 L 271.93917 197.883341 L 272.61542 210.339849 L 273.29167 218.150269 L 273.96792 218.150269 L 274.64417 202.734199 L 275.99667 158.770035 L 276.67292 143.353966 L 277.34917 143.353966 L 278.02542 151.915139 L 278.70167 165.324446 L 280.05417 196.73388 L 280.73042 207.538485 L 281.40667 211.43778 L 282.08292 205.564383 L 282.75917 189.808955 L 284.11167 150.210252 L 284.78792 137.440583 L 285.46417 137.440583 L 286.14042 145.700307 L 286.81667 158.637455 L 288.16917 188.940923 L 288.84542 199.365084 L 289.52167 203.12708 L 290.19792 196.530608 L 290.87417 178.835526 L 292.22667 134.361821 L 292.90292 120.020076 L 293.57917 120.020076 L 294.25542 128.64154 L 294.93167 142.145278 L 296.28417 173.775906 L 296.96042 184.656599 L 297.63667 188.583354 L 298.31292 182.329392 L 298.98917 165.553093 L 300.34167 123.3886 L 301.01792 109.791522 L 301.69417 109.791522 L 302.37042 117.990956 L 303.04667 130.833672 L 304.39917 160.915947 L 305.07542 171.264019 L 305.75167 174.998555 L 306.42792 168.681165 L 307.10417 151.734722 L 308.45667 109.142596 L 309.13292 95.407617 L 309.80917 95.407617 L 310.48542 102.817056 L 311.16167 114.634056 L 312.51417 144.105172 L 313.19042 155.922172 L 313.86667 163.331611 L 314.54292 163.331611 L 315.21917 149.348409 L 317.24792 88.733842 L 317.92417 82.302282 L 318.60042 86.895151 L 319.27667 99.443102 L 320.62917 133.724741 L 321.30542 146.272691 L 321.98167 150.86556 L 322.65792 144.725767 L 323.33417 128.25573 L 324.68667 86.860974 L 325.36292 73.512118 L 326.03917 73.512118 L 326.71542 83.552978 L 328.74417 132.034537 L 329.42042 142.075396 L 330.09667 142.075396 L 330.77292 132.38881 L 331.44917 117.216778 L 332.80167 81.678404 L 333.47792 69.453476 L 334.15417 65.041597 L 334.83042 70.788139 L 335.50667 86.203277 L 336.85917 124.946716 L 337.53542 137.440583 L 338.21167 137.440583 L 338.88792 126.440107 L 340.91667 73.325113 L 341.59292 62.324637 L 342.26917 62.324637 L 342.94542 74.018676 L 344.97417 124.710148 L 345.65042 130.088809 L 346.32667 126.143748 L 347.00292 115.212329 L 349.03167 69.867546 L 349.70792 61.205889 L 350.38417 61.205889 L 351.06042 70.852282 L 351.73667 85.96136 L 353.08917 121.352272 L 353.76542 133.526474 L 354.44167 137.920046 L 355.11792 131.995907 L 355.79417 116.104363 L 357.14667 76.163554 L 357.82292 63.283564 L 358.49917 63.283564 L 359.17542 73.010344 L 359.85167 88.245331 L 361.20417 123.931167 L 361.88042 136.206821 L 362.55667 140.637006 L 363.23292 134.712867 L 363.90917 118.821323 L 365.26167 78.880514 L 365.93792 66.000524 L 366.61417 66.000524 L 367.29042 75.285177 L 367.96667 89.827665 L 369.31917 123.891417 L 369.99542 135.609087 L 370.67167 139.8379 L 371.34792 134.142101 L 372.02417 118.863078 L 373.37667 80.461744 L 374.05292 68.078199 L 374.72917 68.078199 L 375.40542 77.061402 L 376.08167 91.131731 L 377.43417 124.089518 L 378.11042 135.426744 L 378.78667 139.518258 L 379.46292 133.682918 L 380.13917 118.029576 L 381.49167 78.687452 L 382.16792 66.000524 L 382.84417 66.000524 L 384.19667 103.104451 L 384.87292 111.709376 L 384.87292 111.709376 " clip-path="url(#pfecbb01156)" style="fill: none; stroke: #1f77b4; stroke-width: 1.5; stroke-linecap: square"/>
</g>
<g id="line2d_20">
<path d="M 60.94917 176.277125 L 61.62542 173.240523 L 62.30167 179.543548 L 62.97792 196.045083 L 63.65417 216.442102 L 64.33042 232.943637 L 65.00667 239.246662 L 65.68292 235.413918 L 66.35917 224.942668 L 67.71167 196.33468 L 68.38792 185.86343 L 69.06417 182.030687 L 69.74042 186.334494 L 70.41667 198.092713 L 71.76917 230.216766 L 72.44542 241.974986 L 73.12167 246.278793 L 73.79792 242.58087 L 74.47417 232.33425 L 76.50292 189.830092 L 77.17917 181.711044 L 77.85542 181.711044 L 78.53167 192.329452 L 80.56042 238.358265 L 81.23667 243.242191 L 81.91292 240.052996 L 82.58917 231.11707 L 84.61792 190.959384 L 85.29417 182.023458 L 85.97042 178.834263 L 86.64667 184.358949 L 87.32292 198.822764 L 87.99917 216.701023 L 88.67542 231.164838 L 89.35167 236.689523 L 90.02792 233.37371 L 90.70417 224.083008 L 92.73292 182.330972 L 93.40917 173.04027 L 94.08542 169.724457 L 94.76167 175.325451 L 95.43792 189.989042 L 96.11417 208.114238 L 96.79042 222.77783 L 97.46667 228.378823 L 98.14292 224.131703 L 98.81917 212.363308 L 100.84792 163.546651 L 101.52417 154.221805 L 102.20042 154.221805 L 102.87667 164.509249 L 104.90542 209.103398 L 105.58167 213.835098 L 106.25792 210.131516 L 106.93417 199.754312 L 108.96292 153.11958 L 109.63917 142.742376 L 110.31542 139.038794 L 110.99167 145.713097 L 113.02042 196.094949 L 113.69667 196.094949 L 114.37292 189.135676 L 115.04917 177.875336 L 117.07792 135.273124 L 117.75417 126.366836 L 118.43042 123.216499 L 119.10667 127.631061 L 119.78292 139.473154 L 121.13542 169.236326 L 121.81167 178.834263 L 122.48792 178.834263 L 123.16417 169.569707 L 123.84042 155.058696 L 125.19292 121.068675 L 125.86917 109.376368 L 126.54542 105.156708 L 127.22167 109.533213 L 127.89792 121.27322 L 129.25042 150.779812 L 129.92667 160.295009 L 130.60292 160.295009 L 131.27917 151.532868 L 131.95542 137.808789 L 133.30792 105.662044 L 133.98417 94.603811 L 134.66042 90.612983 L 135.33667 96.213976 L 136.01292 110.877568 L 136.68917 129.002764 L 137.36542 143.666355 L 138.04167 149.267349 L 138.71792 144.599538 L 139.39417 131.846842 L 140.74667 97.005829 L 141.42292 84.253133 L 142.09917 79.585323 L 142.77542 83.803482 L 143.45167 95.327707 L 144.80417 126.812476 L 145.48042 138.336701 L 146.15667 142.55486 L 146.83292 138.600645 L 147.50917 127.643863 L 149.53792 82.193872 L 150.21417 73.512118 L 150.89042 73.512118 L 151.56667 82.921036 L 153.59542 128.351308 L 154.27167 137.760225 L 154.94792 137.760225 L 155.62417 128.913034 L 157.65292 86.195017 L 158.32917 77.347826 L 159.00542 77.347826 L 159.68167 90.688656 L 161.03417 128.734567 L 161.71042 142.075396 L 162.38667 142.075396 L 163.06292 135.72943 L 163.73917 125.608517 L 165.09167 100.367373 L 165.76792 90.24646 L 166.44417 83.900494 L 167.12042 83.900494 L 167.79667 94.128596 L 169.82542 143.514239 L 170.50167 153.742341 L 171.17792 153.742341 L 171.85417 145.058987 L 173.88292 103.132045 L 174.55917 94.448691 L 175.23542 94.448691 L 175.91167 107.356261 L 177.94042 163.308169 L 178.61667 169.244994 L 179.29292 165.995581 L 179.96917 156.991744 L 181.99792 119.642793 L 182.67417 112.508482 L 183.35042 112.508482 L 184.02667 124.809286 L 186.05542 178.130976 L 186.73167 183.788719 L 187.40792 180.05233 L 188.08417 169.844323 L 189.43667 141.955531 L 190.11292 131.747524 L 190.78917 128.011134 L 191.46542 133.364425 L 192.14167 147.724664 L 193.49417 183.816786 L 194.17042 195.455664 L 194.84667 195.455664 L 195.52292 189.475811 L 196.19917 179.938797 L 197.55167 156.153873 L 198.22792 146.616859 L 198.90417 140.637006 L 199.58042 140.637006 L 200.25667 151.192781 L 202.28542 202.160574 L 202.96167 212.716349 L 203.63792 212.716349 L 204.31417 203.658511 L 206.34292 159.923399 L 207.01917 150.86556 L 207.69542 150.86556 L 208.37167 161.421336 L 210.40042 212.389128 L 211.07667 222.944904 L 211.75292 222.944904 L 212.42917 212.354077 L 214.45792 166.444819 L 215.13417 161.573578 L 215.81042 165.381341 L 216.48667 175.932316 L 218.51542 219.698974 L 219.19167 228.059181 L 219.86792 228.059181 L 220.54417 219.282206 L 222.57292 176.903221 L 223.24917 168.126246 L 223.92542 168.126246 L 224.60167 177.488352 L 226.63042 222.692603 L 227.30667 232.05471 L 227.98292 232.05471 L 228.65917 223.915566 L 229.33542 211.167281 L 230.68792 181.306199 L 231.36417 171.034216 L 232.04042 167.32714 L 232.71667 172.325236 L 233.39292 185.732663 L 234.74542 219.430047 L 235.42167 230.296677 L 236.09792 230.296677 L 236.77417 220.48987 L 238.80292 173.138418 L 239.47917 163.331611 L 240.15542 163.331611 L 240.83167 172.43626 L 242.86042 216.397393 L 243.53667 225.502042 L 244.21292 225.502042 L 244.88917 215.859072 L 246.91792 169.298694 L 247.59417 159.655724 L 248.27042 159.655724 L 248.94667 168.08162 L 250.97542 208.765446 L 251.65167 217.191342 L 252.32792 217.191342 L 253.00417 207.173888 L 255.03292 158.805339 L 255.70917 148.787885 L 256.38542 148.787885 L 257.06167 156.243743 L 257.73792 167.921801 L 259.09042 195.276027 L 259.76667 204.685671 L 260.44292 208.081536 L 261.11917 202.525277 L 261.79542 187.620574 L 263.14792 150.16003 L 263.82417 138.079867 L 264.50042 138.079867 L 265.17667 145.535725 L 265.85292 157.213784 L 267.20542 184.568009 L 267.88167 193.977653 L 268.55792 197.373518 L 269.23417 191.741146 L 269.91042 176.632269 L 271.26292 138.658567 L 271.93917 126.412923 L 272.61542 126.412923 L 273.29167 133.969264 L 273.96792 145.804708 L 275.32042 173.527589 L 275.99667 183.064047 L 276.67292 186.505679 L 277.34917 180.94942 L 278.02542 166.044717 L 279.37792 128.584173 L 280.05417 116.504011 L 280.73042 116.504011 L 281.40667 128.033123 L 282.75917 160.912305 L 283.43542 172.441417 L 284.11167 172.441417 L 284.78792 165.276054 L 285.46417 153.84832 L 286.81667 125.348017 L 287.49292 113.920283 L 288.16917 106.75492 L 288.84542 106.75492 L 289.52167 116.711401 L 291.55042 159.870885 L 292.22667 164.450359 L 292.90292 159.836078 L 293.57917 147.229629 L 294.93167 112.788169 L 295.60792 100.181719 L 296.28417 95.567439 L 296.96042 99.839128 L 297.63667 111.509599 L 298.98917 143.393921 L 299.66542 155.064393 L 300.34167 159.336082 L 301.01792 154.860979 L 301.69417 142.63477 L 303.04667 109.232148 L 303.72292 97.005939 L 304.39917 92.530837 L 305.07542 96.941704 L 305.75167 108.992416 L 307.10417 141.915575 L 307.78042 153.966288 L 308.45667 158.377155 L 309.13292 153.923464 L 309.80917 141.755754 L 311.16167 108.512953 L 311.83792 96.345243 L 312.51417 91.891552 L 313.19042 95.635242 L 313.86667 106.008676 L 315.89542 149.038876 L 316.57167 157.258407 L 317.24792 157.258407 L 317.92417 146.612419 L 319.95292 100.46405 L 320.62917 95.567439 L 321.30542 99.274515 L 321.98167 109.546498 L 324.01042 152.155865 L 324.68667 160.295009 L 325.36292 160.295009 L 326.03917 153.220987 L 326.71542 142.140997 L 328.06792 116.187661 L 328.74417 107.259913 L 329.42042 104.03796 L 330.09667 108.652241 L 330.77292 121.25869 L 332.12542 155.70015 L 332.80167 168.3066 L 333.47792 172.92088 L 334.15417 167.197794 L 334.83042 152.214561 L 335.50667 133.694265 L 336.18292 118.711031 L 336.85917 112.987945 L 337.53542 117.271678 L 338.21167 129.141525 L 340.24042 178.379015 L 340.91667 187.784248 L 341.59292 187.784248 L 342.26917 177.800187 L 344.29792 134.521147 L 344.97417 129.928988 L 345.65042 134.575387 L 346.32667 147.269584 L 347.67917 181.950776 L 348.35542 194.644973 L 349.03167 199.291372 L 349.70792 196.188412 L 350.38417 187.590381 L 352.41292 151.924763 L 353.08917 145.111998 L 353.76542 145.111998 L 354.44167 155.152858 L 356.47042 203.634417 L 357.14667 213.675276 L 357.82292 213.675276 L 358.49917 205.764296 L 360.52792 167.566704 L 361.20417 159.655724 L 361.88042 159.655724 L 362.55667 169.579557 L 364.58542 217.496063 L 365.26167 227.419896 L 365.93792 227.419896 L 366.61417 219.204647 L 368.64292 179.537918 L 369.31917 171.322669 L 369.99542 171.322669 L 370.67167 183.457992 L 372.70042 236.06235 L 373.37667 241.643979 L 374.05292 238.755503 L 374.72917 230.66217 L 376.75792 194.291065 L 377.43417 186.197733 L 378.11042 183.309256 L 378.78667 188.472263 L 379.46292 202.322068 L 380.81542 237.131295 L 381.49167 248.356468 L 382.16792 248.356468 L 382.84417 233.892653 L 384.19667 197.268988 L 384.87292 190.501208 L 384.87292 190.501208 " clip-path="url(#pfecbb01156)" style="fill: none; stroke: #ff7f0e; stroke-width: 1.5; stroke-linecap: square"/>
</g>
<g id="line2d_21">
<path d="M 60.94917 118.262043 L 61.62542 127.467742 L 62.30167 132.645948 L 62.97792 132.645948 L 63.65417 119.43688 L 65.00667 81.766731 L 65.68292 68.557662 L 66.35917 68.557662 L 67.71167 106.435278 L 68.38792 117.942401 L 69.74042 126.189173 L 70.41667 130.887915 L 71.09292 126.067417 L 71.76917 113.136395 L 73.12167 80.63638 L 73.79792 70.155874 L 74.47417 70.155874 L 75.82667 109.490321 L 76.50292 121.440026 L 77.85542 130.003981 L 78.53167 134.883444 L 79.20792 128.88565 L 79.88417 113.183221 L 80.56042 93.773951 L 81.23667 78.071522 L 81.91292 72.073728 L 82.58917 79.457466 L 83.94167 115.145531 L 84.61792 122.529268 L 85.29417 124.990514 L 86.64667 133.604875 L 87.32292 128.720949 L 87.99917 115.619783 L 89.35167 82.692135 L 90.02792 72.073728 L 90.70417 72.073728 L 92.05667 112.185151 L 92.73292 124.3709 L 94.08542 133.10402 L 94.76167 138.079867 L 95.43792 133.386224 L 96.11417 120.795493 L 97.46667 89.150741 L 98.14292 78.946038 L 98.81917 78.946038 L 100.84792 128.381919 L 101.52417 133.585696 L 102.20042 137.163293 L 102.87667 143.99325 L 103.55292 143.99325 L 104.22917 129.48948 L 105.58167 92.764644 L 106.25792 85.978169 L 106.93417 93.675156 L 108.28667 129.960952 L 108.96292 140.131971 L 110.31542 147.966404 L 110.99167 154.701268 L 111.66792 154.701268 L 112.34417 139.718034 L 113.69667 101.779154 L 114.37292 94.768333 L 115.04917 102.571601 L 117.07792 151.249131 L 117.75417 156.822894 L 118.43042 159.98136 L 119.78292 169.085173 L 120.45917 160.425224 L 121.81167 118.611292 L 122.48792 109.951343 L 123.16417 118.00633 L 124.51667 155.979837 L 125.19292 166.623927 L 126.54542 174.822752 L 127.22167 181.870865 L 127.89792 181.870865 L 128.57417 169.254723 L 129.92667 133.275503 L 130.60292 120.659361 L 131.27917 120.659361 L 133.30792 177.747479 L 133.98417 183.756755 L 134.66042 187.888132 L 135.33667 195.775306 L 136.01292 195.775306 L 136.68917 181.191625 L 138.04167 144.264449 L 138.71792 137.440583 L 139.39417 145.042476 L 141.42292 192.463812 L 142.09917 197.893736 L 142.77542 200.970693 L 144.12792 209.839569 L 144.80417 202.77266 L 146.83292 149.42717 L 147.50917 149.42717 L 149.53792 203.235758 L 150.21417 208.89982 L 150.89042 212.793863 L 151.56667 220.227944 L 152.24292 220.227944 L 152.91917 205.084889 L 154.27167 166.741328 L 154.94792 159.655724 L 155.62417 167.106587 L 157.65292 213.585777 L 158.32917 218.907821 L 159.00542 221.923646 L 160.35792 230.616319 L 161.03417 223.381151 L 163.06292 168.76553 L 163.73917 168.76553 L 165.76792 221.410621 L 166.44417 228.314895 L 167.12042 231.287568 L 168.47292 240.685053 L 169.14917 232.907714 L 171.17792 174.19945 L 171.85417 174.19945 L 173.88292 225.908627 L 174.55917 232.690159 L 175.23542 235.609985 L 176.58792 244.840403 L 177.26417 235.571917 L 178.61667 190.819709 L 179.29292 181.551223 L 179.96917 189.15871 L 181.32167 225.022579 L 181.99792 235.07533 L 183.35042 242.818665 L 184.02667 249.475216 L 184.70292 249.475216 L 185.37917 236.529671 L 186.73167 199.611046 L 187.40792 186.6655 L 188.08417 186.6655 L 190.11292 235.449951 L 190.78917 241.847911 L 191.46542 244.602589 L 192.81792 253.310924 L 193.49417 247.389438 L 194.17042 231.886785 L 194.84667 212.724453 L 195.52292 197.2218 L 196.19917 191.300314 L 196.87542 200.529617 L 198.22792 238.750971 L 198.90417 245.572629 L 199.58042 249.133937 L 200.25667 256.507347 L 200.93292 256.507347 L 201.60917 243.726503 L 202.96167 207.277581 L 203.63792 194.496737 L 204.31417 194.496737 L 206.34292 244.211986 L 207.01917 249.44517 L 207.69542 253.042984 L 208.37167 259.911538 L 209.04792 259.911538 L 209.72417 243.677704 L 211.07667 202.572192 L 211.75292 194.976201 L 212.42917 201.571221 L 214.45792 242.711585 L 215.13417 247.422314 L 215.81042 250.091726 L 217.16292 257.785917 L 217.83917 250.532053 L 219.86792 195.775306 L 220.54417 195.775306 L 222.57292 240.933095 L 223.24917 246.855428 L 223.92542 249.405321 L 225.27792 257.466274 L 225.95417 249.950674 L 227.98292 193.218168 L 228.65917 193.218168 L 230.68792 239.374519 L 231.36417 244.233082 L 232.04042 247.573345 L 232.71667 253.950209 L 233.39292 253.950209 L 234.06917 237.528585 L 235.42167 195.947572 L 236.09792 188.263712 L 236.77417 194.607014 L 238.80292 234.177135 L 239.47917 238.708065 L 240.15542 241.275592 L 241.50792 248.676111 L 242.18417 239.337409 L 243.53667 194.246169 L 244.21292 184.907467 L 244.88917 191.942156 L 246.24167 225.105686 L 246.91792 234.401524 L 248.27042 241.561831 L 248.94667 247.717184 L 249.62292 247.717184 L 250.29917 234.178712 L 251.65167 195.569158 L 252.32792 182.030687 L 253.00417 182.030687 L 255.03292 224.380737 L 255.70917 229.934842 L 256.38542 232.326193 L 257.73792 239.885947 L 258.41417 232.463824 L 260.44292 176.436946 L 261.11917 176.436946 L 263.14792 224.050866 L 263.82417 229.062858 L 264.50042 232.508602 L 265.17667 239.086841 L 265.85292 239.086841 L 266.52917 223.344457 L 267.88167 183.48334 L 268.55792 176.117304 L 269.23417 182.057856 L 271.26292 219.115589 L 271.93917 223.35884 L 272.61542 225.76335 L 273.96792 232.693994 L 274.64417 225.309262 L 276.67292 169.564636 L 277.34917 169.564636 L 279.37792 218.757589 L 280.05417 223.935795 L 280.73042 227.495811 L 281.40667 234.292206 L 282.08292 234.292206 L 282.75917 217.990448 L 284.11167 176.712946 L 284.78792 169.085173 L 285.46417 175.545943 L 287.49292 215.848844 L 288.16917 220.46368 L 288.84542 223.078754 L 290.19792 230.616319 L 290.87417 223.306369 L 292.90292 168.126246 L 293.57917 168.126246 L 295.60792 213.518012 L 296.28417 219.471031 L 296.96042 222.034136 L 298.31292 230.136856 L 298.98917 222.527778 L 301.01792 165.089644 L 301.69417 165.089644 L 303.72292 211.488923 L 304.39917 216.373058 L 305.07542 219.7309 L 305.75167 226.141327 L 306.42792 226.141327 L 307.10417 212.273452 L 308.45667 172.724493 L 309.13292 158.856618 L 309.80917 158.856618 L 311.83792 203.429461 L 312.51417 209.27508 L 313.19042 211.791944 L 314.54292 219.74848 L 315.21917 212.550704 L 317.24792 158.217334 L 317.92417 158.217334 L 319.95292 202.065867 L 320.62917 206.681502 L 321.30542 209.854752 L 321.98167 215.912773 L 322.65792 215.912773 L 323.33417 202.571943 L 324.68667 164.526032 L 325.36292 151.185203 L 326.03917 151.185203 L 328.06792 197.22009 L 328.74417 202.065867 L 329.42042 205.397339 L 330.09667 211.757422 L 330.77292 211.757422 L 331.44917 197.790727 L 332.80167 157.959946 L 333.47792 143.99325 L 334.15417 143.99325 L 336.18292 186.811257 L 336.85917 192.426733 L 337.53542 194.844508 L 338.88792 202.487795 L 339.56417 193.242715 L 340.91667 148.603517 L 341.59292 139.358437 L 342.26917 146.051747 L 343.62167 178.402746 L 344.29792 185.096056 L 344.97417 187.32716 L 346.32667 195.136022 L 347.00292 189.719304 L 347.67917 175.188919 L 349.03167 138.669165 L 349.70792 126.892386 L 350.38417 126.892386 L 352.41292 169.242437 L 353.08917 174.796542 L 353.76542 177.187892 L 355.11792 184.747646 L 355.79417 177.325523 L 357.82292 121.298646 L 358.49917 121.298646 L 360.52792 163.325218 L 361.20417 167.749068 L 361.88042 170.790464 L 362.55667 176.596767 L 363.23292 176.596767 L 363.90917 162.366549 L 365.26167 121.784244 L 365.93792 107.554026 L 366.61417 107.554026 L 368.64292 153.103056 L 369.31917 157.897691 L 369.99542 161.194003 L 370.67167 167.486961 L 371.34792 167.486961 L 372.02417 153.256743 L 373.37667 112.674438 L 374.05292 98.44422 L 374.72917 98.44422 L 376.75792 143.507394 L 377.43417 148.250886 L 378.11042 151.512037 L 378.78667 157.73787 L 379.46292 157.73787 L 380.13917 143.34295 L 381.49167 102.290943 L 382.16792 87.896023 L 382.84417 87.896023 L 383.52042 124.143462 L 384.87292 139.678079 L 384.87292 139.678079 " clip-path="url(#pfecbb01156)" style="fill: none; stroke: #2ca02c; stroke-width: 1.5; stroke-linecap: square"/>
</g>
<g id="patch_3">
<path d="M 45.06 272.01 L 45.06 5.7 " style="fill: none; stroke: #000000; stroke-width: 0.8; stroke-linejoin: miter; stroke-linecap: square"/>
</g>
<g id="patch_4">
<path d="M 402.12 272.01 L 402.12 5.7 " style="fill: none; stroke: #000000; stroke-width: 0.8; stroke-linejoin: miter; stroke-linecap: square"/>
</g>
<g id="patch_5">
<path d="M 45.06 272.01 L 402.12 272.01 " style="fill: none; stroke: #000000; stroke-width: 0.8; stroke-linejoin: miter; stroke-linecap: square"/>
</g>
<g id="patch_6">
<path d="M 45.06 5.7 L 402.12 5.7 " style="fill: none; stroke: #000000; stroke-width: 0.8; stroke-linejoin: miter; stroke-linecap: square"/>
</g>
</g>
</g>
<defs>
<clipPath id="pfecbb01156">
<rect x="45.06" y="5.7" width="357.06" height="266.31"/>
</clipPath>
</defs>
</svg>

</body></html>
